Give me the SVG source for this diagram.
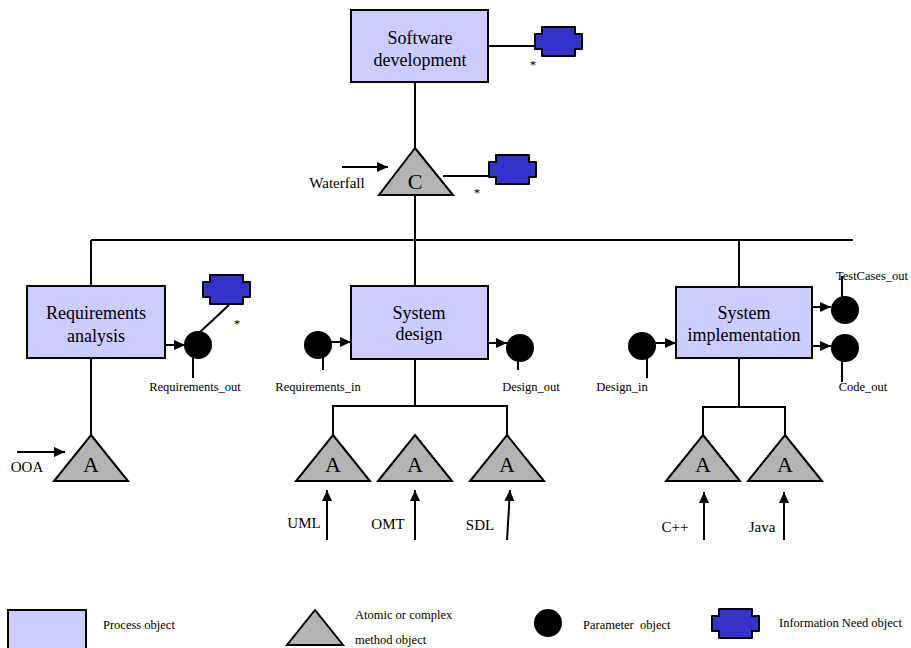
<svg xmlns="http://www.w3.org/2000/svg" width="911" height="648" viewBox="0 0 911 648" font-family="'Liberation Serif', 'Times New Roman', serif">
<defs>
<style>
.proc{fill:#ccccff;stroke:#000;stroke-width:2}
.meth{fill:#b3b3b3;stroke:#000;stroke-width:2;stroke-linejoin:miter}
.info{fill:#3333cc;stroke:#000;stroke-width:2;stroke-linejoin:round}
.param{fill:#000}
.ln{stroke:#000;stroke-width:2;fill:none}
text{font-family:'Liberation Serif','Times New Roman',serif;fill:#000}
.big{font-size:18px;text-anchor:middle}
.tri{font-size:22px;text-anchor:middle}
.lab{font-size:15px;text-anchor:middle}
.sm{font-size:12.5px;text-anchor:middle}
.leg{font-size:12.5px}
.ast{font-size:13px;text-anchor:middle}
</style>
<marker id="ah" markerUnits="userSpaceOnUse" markerWidth="12" markerHeight="10" refX="11" refY="5" orient="auto">
<path d="M0,0 L11,5 L0,10 Z" fill="#000"/>
</marker>
<path id="inf" d="M7,0 H40 V7 H47 V22 H40 V29 H7 V22 H0 V7 H7 Z"/>
</defs>
<rect width="911" height="648" fill="#fff"/>

<g id="connectors">
<line class="ln" x1="415" y1="82" x2="415" y2="148"/>
<line class="ln" x1="488" y1="46" x2="535" y2="46"/>
<line class="ln" x1="443" y1="176" x2="489" y2="176"/>
<line class="ln" x1="342" y1="167" x2="388" y2="167" marker-end="url(#ah)"/>
<line class="ln" x1="415" y1="195" x2="415" y2="286"/>
<line class="ln" x1="91" y1="240" x2="853" y2="240"/>
<line class="ln" x1="91" y1="240" x2="91" y2="286"/>
<line class="ln" x1="739" y1="240" x2="739" y2="287"/>
<line class="ln" x1="91" y1="358" x2="91" y2="435"/>
<line class="ln" x1="17" y1="452" x2="65" y2="452" marker-end="url(#ah)"/>
<line class="ln" x1="165" y1="345" x2="185" y2="345" marker-end="url(#ah)"/>
<line class="ln" x1="193" y1="352" x2="193" y2="378"/>
<line class="ln" x1="200" y1="332" x2="229" y2="305"/>
<line class="ln" x1="323" y1="350" x2="323" y2="370"/>
<line class="ln" x1="331" y1="342" x2="351" y2="342" marker-end="url(#ah)"/>
<line class="ln" x1="488" y1="343" x2="507" y2="343" marker-end="url(#ah)"/>
<line class="ln" x1="518" y1="352" x2="518" y2="370"/>
<line class="ln" x1="415" y1="359" x2="415" y2="406"/>
<polyline class="ln" points="333,435 333,406 507,406 507,435"/>
<line class="ln" x1="327" y1="540" x2="327" y2="490" marker-end="url(#ah)"/>
<line class="ln" x1="415" y1="540" x2="415" y2="490" marker-end="url(#ah)"/>
<line class="ln" x1="507" y1="540" x2="510" y2="490" marker-end="url(#ah)"/>
<line class="ln" x1="655" y1="343" x2="676" y2="343" marker-end="url(#ah)"/>
<line class="ln" x1="647" y1="352" x2="647" y2="378"/>
<line class="ln" x1="812" y1="307" x2="831" y2="307" marker-end="url(#ah)"/>
<line class="ln" x1="842" y1="305" x2="842" y2="276"/>
<line class="ln" x1="812" y1="346" x2="831" y2="346" marker-end="url(#ah)"/>
<line class="ln" x1="842" y1="352" x2="842" y2="382"/>
<line class="ln" x1="739" y1="358" x2="739" y2="407"/>
<polyline class="ln" points="703,435 703,407 785,407 785,435"/>
<line class="ln" x1="704" y1="540" x2="704" y2="492" marker-end="url(#ah)"/>
<line class="ln" x1="784" y1="540" x2="784" y2="492" marker-end="url(#ah)"/>
</g>

<g id="software-development">
<rect class="proc" x="351" y="10" width="137" height="72"/>
<text class="big" x="420" y="44">Software</text>
<text class="big" x="420" y="66">development</text>
</g>
<g id="info-need-1">
<use href="#inf" class="info" x="535" y="27"/>
<text class="ast" x="533" y="69">*</text>
</g>
<g id="waterfall-method">
<polygon class="meth" points="415,148 453,195 379,195"/>
<text class="tri" x="415" y="189">C</text>
<text class="lab" x="337" y="188">Waterfall</text>
</g>
<g id="info-need-2">
<use href="#inf" class="info" x="489" y="155"/>
<text class="ast" x="477" y="197">*</text>
</g>

<g id="requirements-analysis">
<rect class="proc" x="27" y="286" width="138" height="72"/>
<text class="big" x="96" y="319">Requirements</text>
<text class="big" x="96" y="342">analysis</text>
</g>
<g id="requirements-out">
<circle class="param" cx="198" cy="345" r="14"/>
<text class="sm" x="195" y="391">Requirements_out</text>
</g>
<g id="info-need-3">
<use href="#inf" class="info" x="203" y="275"/>
<text class="ast" x="237" y="328">*</text>
</g>
<g id="ooa-method">
<polygon class="meth" points="91,435 128,481 54,481"/>
<text class="tri" x="91" y="472">A</text>
<text class="lab" x="27" y="472">OOA</text>
</g>

<g id="system-design">
<rect class="proc" x="351" y="286" width="137" height="73"/>
<text class="big" x="419" y="319">System</text>
<text class="big" x="419" y="340">design</text>
</g>
<g id="requirements-in">
<circle class="param" cx="318" cy="345" r="14"/>
<text class="sm" x="318" y="391">Requirements_in</text>
</g>
<g id="design-out">
<circle class="param" cx="520" cy="348" r="14"/>
<text class="sm" x="531" y="391">Design_out</text>
</g>
<g id="uml-method">
<polygon class="meth" points="333,435 370,481 296,481"/>
<text class="tri" x="333" y="472">A</text>
<text class="lab" x="304" y="528">UML</text>
</g>
<g id="omt-method">
<polygon class="meth" points="415,435 452,481 378,481"/>
<text class="tri" x="415" y="472">A</text>
<text class="lab" x="388" y="529">OMT</text>
</g>
<g id="sdl-method">
<polygon class="meth" points="507,435 544,481 470,481"/>
<text class="tri" x="507" y="472">A</text>
<text class="lab" x="480" y="530">SDL</text>
</g>

<g id="system-implementation">
<rect class="proc" x="676" y="287" width="136" height="71"/>
<text class="big" x="744" y="319">System</text>
<text class="big" x="744" y="341">implementation</text>
</g>
<g id="design-in">
<circle class="param" cx="642" cy="346" r="14"/>
<text class="sm" x="622" y="391">Design_in</text>
</g>
<g id="testcases-out">
<circle class="param" cx="845" cy="310" r="14"/>
<text class="sm" x="872" y="280">TestCases_out</text>
</g>
<g id="code-out">
<circle class="param" cx="845" cy="348" r="14"/>
<text class="sm" x="863" y="391">Code_out</text>
</g>
<g id="cpp-method">
<polygon class="meth" points="703,435 740,481 666,481"/>
<text class="tri" x="703" y="472">A</text>
<text class="lab" x="675" y="532">C++</text>
</g>
<g id="java-method">
<polygon class="meth" points="785,435 822,481 748,481"/>
<text class="tri" x="785" y="472">A</text>
<text class="lab" x="762" y="532">Java</text>
</g>

<g id="legend">
<rect class="proc" x="8" y="610" width="78" height="50"/>
<text class="leg" x="103" y="629">Process object</text>
<polygon class="meth" points="315,610 343,645 287,645"/>
<text class="leg" x="355" y="619">Atomic or complex</text>
<text class="leg" x="355" y="644">method object</text>
<circle class="param" cx="548" cy="623" r="14"/>
<text class="leg" x="583" y="629" xml:space="preserve">Parameter  object</text>
<use href="#inf" class="info" x="712" y="609"/>
<text class="leg" x="779" y="627">Information Need object</text>
</g>
</svg>
